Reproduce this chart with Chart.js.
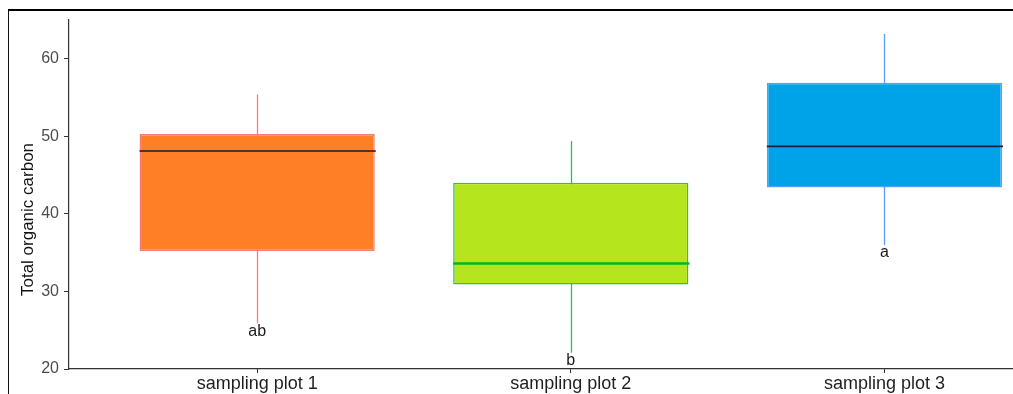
<!DOCTYPE html>
<html>
<head>
<meta charset="utf-8">
<script src="https://cdn.jsdelivr.net/npm/chart.js@4"></script>
<style>
  html, body { margin: 0; padding: 0; background: #fff; overflow: hidden; }
  #wrap { position: relative; width: 1013px; height: 394px; }
  #frame { position: absolute; left: 8px; top: 9px; width: 1100px; height: 500px;
           border-top: 2px solid #000; border-left: 1px solid #111; pointer-events: none; }
</style>
</head>
<body>
<div id="wrap">
  <canvas id="c" width="1013" height="394"></canvas>
  <div id="frame"></div>
</div>
<script>
// Total organic carbon per sampling plot (box-plot summary)
const categories   = ['sampling plot 1', 'sampling plot 2', 'sampling plot 3'];
const positions    = [1, 2, 3];
const whiskerLow   = [25.9, 22.1, 36.0];
const q1           = [35.2, 30.9, 43.4];
const median       = [48.1, 33.6, 48.7];
const q3           = [50.3, 44.0, 56.9];
const whiskerHigh  = [55.4, 49.4, 63.2];
const groupLetters = ['ab', 'b', 'a'];
const yTicks       = [20, 30, 40, 50, 60];

// styling
const boxFill      = ['#FF7F27', '#B5E61D', '#00A2E8'];
const boxEdge      = ['#F87C74', '#2CC24E', '#5E9BFF'];
const medianColor  = ['#1E1A1A', '#00B52E', '#1B2238'];
const medianWidth  = [1.6, 2.6, 1.6];
const FONT = "'Liberation Sans', Arial, sans-serif";

const boxes = positions.map((p, i) => ({ x: p, y: [q1[i], q3[i]] }));

const boxParts = {
  id: 'boxParts',
  beforeDatasetsDraw(chart) {
    const { ctx, scales: { y } } = chart;
    const meta = chart.getDatasetMeta(0);
    ctx.save();
    meta.data.forEach((el, i) => {
      const x = Math.round(el.x) + 0.5;
      ctx.strokeStyle = boxEdge[i];
      ctx.lineWidth = 1.3;
      ctx.beginPath();
      ctx.moveTo(x, y.getPixelForValue(whiskerLow[i]));
      ctx.lineTo(x, y.getPixelForValue(whiskerHigh[i]));
      ctx.stroke();
    });
    ctx.restore();
  },
  afterDatasetsDraw(chart) {
    const { ctx, scales: { y } } = chart;
    const meta = chart.getDatasetMeta(0);
    ctx.save();
    meta.data.forEach((el, i) => {
      const ym = y.getPixelForValue(median[i]);
      ctx.strokeStyle = medianColor[i];
      ctx.lineWidth = medianWidth[i];
      ctx.beginPath();
      ctx.moveTo(el.x - el.width / 2, ym);
      ctx.lineTo(el.x + el.width / 2 + 1, ym);
      ctx.stroke();

      ctx.fillStyle = '#1a1a1a';
      ctx.font = '16px ' + FONT;
      ctx.textAlign = 'center';
      ctx.textBaseline = 'top';
      ctx.fillText(groupLetters[i], el.x, y.getPixelForValue(whiskerLow[i]));
    });
    ctx.restore();
  },
  afterDraw(chart) {
    const { ctx, chartArea } = chart;
    ctx.save();
    ctx.translate(28, (chartArea.top + chartArea.bottom) / 2 + 25);
    ctx.rotate(-Math.PI / 2);
    ctx.fillStyle = '#111';
    ctx.font = '17px ' + FONT;
    ctx.textAlign = 'center';
    ctx.textBaseline = 'middle';
    ctx.fillText('Total organic carbon', 0, 0);
    ctx.restore();
  }
};

new Chart(document.getElementById('c'), {
  type: 'bar',
  data: {
    datasets: [{
      data: boxes,
      backgroundColor: boxFill,
      borderColor: boxEdge,
      borderWidth: 1.5,
      borderSkipped: false,
      categoryPercentage: 0.75,
      barPercentage: 1.0
    }]
  },
  options: {
    responsive: false,
    animation: false,
    events: [],
    layout: { padding: { left: 0, top: 20, right: 0, bottom: 0 } },
    plugins: { legend: { display: false }, tooltip: { enabled: false } },
    scales: {
      x: {
        type: 'linear',
        min: 0.4,
        max: 3.41,
        offset: false,
        afterBuildTicks(scale) { scale.ticks = positions.map(v => ({ value: v })); },
        afterFit(scale) { scale.height = 25; },
        ticks: {
          callback: (v, i) => categories[i],
          color: '#1f1f1f',
          font: { family: FONT, size: 18 },
          padding: 0,
          maxRotation: 0,
          autoSkip: false
        },
        grid: { display: true, drawOnChartArea: false, drawTicks: true, tickLength: 4, color: '#333', offset: false },
        border: { display: true, color: '#333', width: 1.2 }
      },
      y: {
        min: 20,
        max: 65,
        afterBuildTicks(scale) { scale.ticks = yTicks.map(v => ({ value: v })); },
        afterFit(scale) { scale.width = 69; },
        ticks: {
          color: '#4D4D4D',
          font: { family: FONT, size: 16 },
          padding: 5
        },
        grid: { display: true, drawOnChartArea: false, drawTicks: true, tickLength: 5, color: '#333' },
        border: { display: true, color: '#333', width: 1.2 }
      }
    }
  },
  plugins: [boxParts]
});
</script>
</body>
</html>
